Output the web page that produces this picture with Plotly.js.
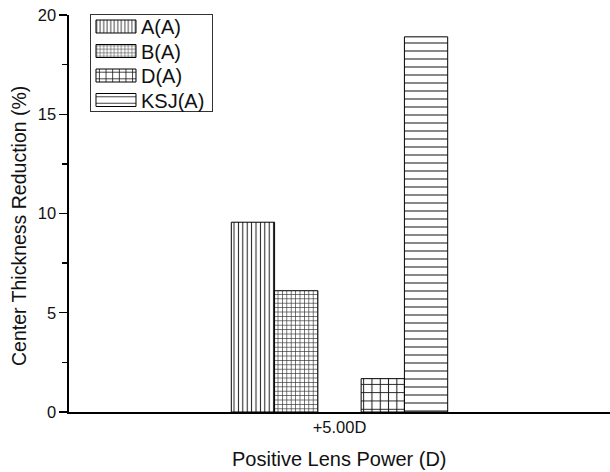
<!DOCTYPE html>
<html>
<head>
<meta charset="utf-8">
<script src="https://cdn.plot.ly/plotly-3.0.1.min.js"></script>
<style>
  html, body { margin: 0; padding: 0; background: #fff; }
  #chart { width: 610px; height: 472px; }
</style>
</head>
<body>
<div id="chart"></div>
<script>
// Centre thickness reduction at +5.00 D for each lens design
const categories = ['+5.00D'];
const seriesNames = ['A(A)', 'B(A)', 'D(A)', 'KSJ(A)'];
const reductionA = [9.56];
const reductionB = [6.11];
const reductionD = [1.68];
const reductionKSJ = [18.9];
const yTickValues = [0, 5, 10, 15, 20];
const yTickLabels = ['0', '5', '10', '15', '20'];
const xTitle = 'Positive Lens Power (D)';
const yTitle = 'Center Thickness Reduction (%)';

const FONT = 'Liberation Sans, Arial, Helvetica, sans-serif';
const INK = '#111';

// hatch fill for each series
const patterns = [
  { shape: '|', size: 4.4, solidity: 0.23, fg: '#1a1a1a' },
  { shape: '+', size: 4.4, solidity: 0.28, fg: '#333' },
  { shape: '+', size: 8.3, solidity: 0.23, fg: '#1a1a1a' },
  { shape: '-', size: 8, solidity: 0.13, fg: '#1a1a1a' }
];

// five bar slots across the group, the middle one left empty
const slotCount = 5;
const groupWidth = 0.4;
const slotWidth = groupWidth / slotCount;
const slotOf = [0, 1, 3, 4];

const values = [reductionA, reductionB, reductionD, reductionKSJ];

const traces = seriesNames.map((name, i) => ({
  type: 'bar',
  name: name,
  x: categories,
  y: values[i],
  width: slotWidth,
  offset: -groupWidth / 2 + slotOf[i] * slotWidth,
  marker: {
    color: '#fff',
    line: { color: '#000', width: 1 },
    pattern: {
      shape: patterns[i].shape,
      size: patterns[i].size,
      solidity: patterns[i].solidity,
      fgcolor: patterns[i].fg,
      bgcolor: '#fff',
      fillmode: 'replace'
    }
  },
  hoverinfo: 'skip'
}));

const layout = {
  width: 610,
  height: 472,
  margin: { l: 69, r: 0, t: 15, b: 60 },
  paper_bgcolor: '#fff',
  plot_bgcolor: '#fff',
  font: { family: FONT, color: INK, size: 16 },
  showlegend: true,
  barmode: 'overlay',
  xaxis: {
    type: 'category',
    range: [-0.5, 0.5],
    showline: true,
    linecolor: '#000',
    linewidth: 1.6,
    ticks: '',
    showgrid: false,
    zeroline: false,
    tickfont: { family: FONT, size: 16.5, color: INK },
    fixedrange: true
  },
  yaxis: {
    range: [0, 20],
    tickmode: 'array',
    tickvals: yTickValues,
    ticktext: yTickLabels,
    ticks: 'outside',
    ticklen: 8,
    tickwidth: 1.3,
    tickcolor: '#000',
    minor: { tickmode: 'linear', tick0: 0, dtick: 2.5, ticks: 'outside', ticklen: 5, tickwidth: 1.3, tickcolor: '#000' },
    showline: true,
    linecolor: '#000',
    linewidth: 1.6,
    showgrid: false,
    zeroline: false,
    tickfont: { family: FONT, size: 16.5, color: INK },
    fixedrange: true
  },
  legend: {
    x: 0.0388,
    y: 1.0025,
    xanchor: 'left',
    yanchor: 'top',
    bgcolor: '#fff',
    bordercolor: '#333',
    borderwidth: 1,
    font: { family: FONT, size: 20, color: INK },
    itemwidth: 40,
    traceorder: 'normal'
  },
  annotations: [
    {
      text: xTitle,
      xref: 'paper', yref: 'paper',
      x: 0.5, y: -0.118,
      xanchor: 'center', yanchor: 'middle',
      showarrow: false,
      font: { family: FONT, size: 20, color: INK }
    },
    {
      text: yTitle,
      xref: 'paper', yref: 'paper',
      x: -0.0924, y: 0.4685,
      xanchor: 'center', yanchor: 'middle',
      textangle: -90,
      showarrow: false,
      font: { family: FONT, size: 19.5, color: INK }
    }
  ]
};

// legend box geometry: long swatches, rows packed tighter than the default
const legendRowTop = 12.5;
const legendRowStep = 24.5;
const legendBoxW = 123;
const legendBoxH = 98;

function tidyLegend(gd) {
  gd.querySelectorAll('.legend .legendpoints path').forEach(p => {
    p.setAttribute('d', 'M20,6.5H-20V-6.5H20Z');
  });
  gd.querySelectorAll('.legend .traces').forEach((g, i) => {
    const m = /translate\(\s*([-\d.e]+)[\s,]+([-\d.e]+)\s*\)/.exec(g.getAttribute('transform') || '');
    const x = m ? parseFloat(m[1]) : 1;
    g.setAttribute('transform', 'translate(' + x + ',' + (legendRowTop + i * legendRowStep) + ')');
  });
  const bg = gd.querySelector('.legend rect.bg');
  if (bg) {
    bg.setAttribute('width', legendBoxW - 1);
    bg.setAttribute('height', legendBoxH - 1);
  }
}

const gd = document.getElementById('chart');
Plotly.newPlot(gd, traces, layout, { staticPlot: true, displayModeBar: false }).then(() => {
  tidyLegend(gd);
  gd.on('plotly_afterplot', () => tidyLegend(gd));
});
</script>
</body>
</html>
